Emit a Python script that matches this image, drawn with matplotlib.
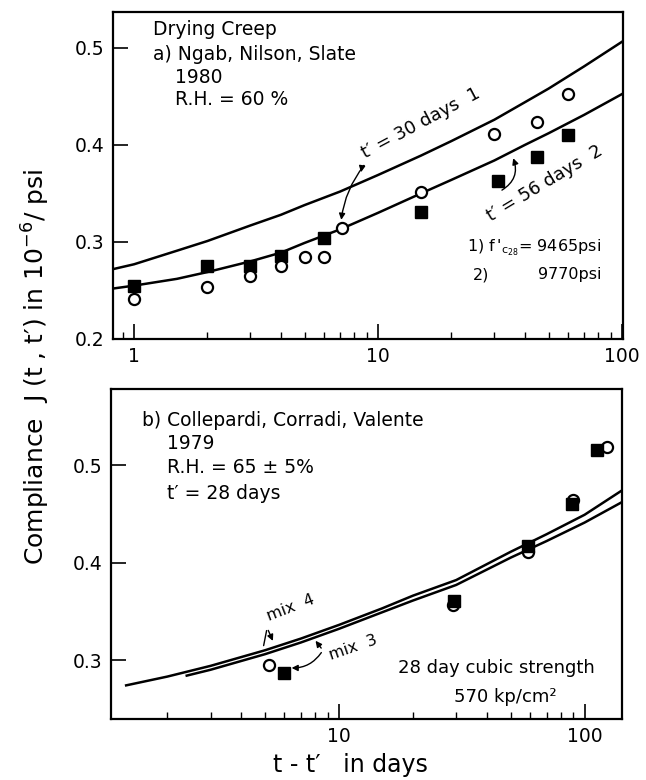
import matplotlib
matplotlib.use("Agg")
import matplotlib.pyplot as plt
from matplotlib.ticker import LogLocator, NullFormatter, FixedLocator, FixedFormatter

# ---------------- data : panel a (Ngab, Nilson, Slate 1980) ----------------
a_sq_x = [1, 2, 3, 4, 6, 15, 31, 45, 60]
a_sq_y = [0.255, 0.275, 0.275, 0.286, 0.304, 0.331, 0.363, 0.388, 0.410]
a_ci_x = [1, 2, 3, 4, 5, 6, 7.1, 15, 30, 45, 60]
a_ci_y = [0.241, 0.254, 0.265, 0.275, 0.285, 0.285, 0.314, 0.351, 0.411, 0.424, 0.453]
# curve 1 (t' = 30 days) and curve 2 (t' = 56 days)
a_c1_x = [0.82, 1, 1.5, 2, 3, 4, 5, 7, 10, 15, 20, 30, 40, 50, 70, 101]
a_c1_y = [0.272, 0.277, 0.291, 0.301, 0.317, 0.328, 0.338, 0.352, 0.369, 0.389,
          0.404, 0.426, 0.444, 0.458, 0.481, 0.507]
a_c2_x = [0.82, 1, 1.5, 2, 3, 4, 5, 7, 10, 15, 20, 30, 40, 50, 70, 101]
a_c2_y = [0.252, 0.255, 0.262, 0.269, 0.280, 0.289, 0.299, 0.313, 0.330, 0.350,
          0.364, 0.384, 0.400, 0.412, 0.431, 0.453]

# ---------------- data : panel b (Collepardi, Corradi, Valente 1979) -------
b_ci_x = [5.2, 29, 59, 90, 123]
b_ci_y = [0.295, 0.356, 0.411, 0.464, 0.518]
b_sq_x = [6.0, 29.5, 59, 89, 112]
b_sq_y = [0.287, 0.361, 0.417, 0.460, 0.515]
b_m4_x = [1.36, 2, 3, 5, 7, 10, 15, 20, 30, 50, 70, 100, 142]
b_m4_y = [0.274, 0.283, 0.294, 0.310, 0.322, 0.336, 0.353, 0.366, 0.382, 0.411,
          0.429, 0.449, 0.474]
b_m3_x = [2.4, 3, 5, 7, 10, 15, 20, 30, 50, 70, 100, 142]
b_m3_y = [0.284, 0.290, 0.306, 0.318, 0.332, 0.349, 0.361, 0.377, 0.405, 0.422,
          0.441, 0.462]

y_ticks_a = [0.2, 0.3, 0.4, 0.5]
y_ticks_b = [0.3, 0.4, 0.5]
y_labels_a = ["0.2", "0.3", "0.4", "0.5"]
y_labels_b = ["0.3", "0.4", "0.5"]

W, H = 646, 780
plt.rcParams['font.family'] = ['DejaVu Sans']
fig = plt.figure(figsize=(W / 100, H / 100), dpi=100)

def box(l, t, r, b):
    return [l / W, 1 - b / H, (r - l) / W, (b - t) / H]

ax1 = fig.add_axes(box(113, 12, 623, 339))
ax2 = fig.add_axes(box(111, 389, 622, 719))

LW = 1.8
for ax in (ax1, ax2):
    ax.set_xscale('log')
    for s in ax.spines.values():
        s.set_linewidth(1.6)
    ax.tick_params(which='major', direction='in', length=11, width=1.2, labelsize=13.5, pad=6)
    ax.tick_params(which='minor', direction='in', length=5, width=1.0)
    ax.xaxis.set_minor_locator(LogLocator(base=10, subs=range(2, 10)))
    ax.xaxis.set_minor_formatter(NullFormatter())

# ---- panel a ----
ax1.plot(a_c1_x, a_c1_y, color='black', lw=LW)
ax1.plot(a_c2_x, a_c2_y, color='black', lw=LW)
ax1.plot(a_sq_x, a_sq_y, 's', color='black', ms=8.5, zorder=5)
ax1.plot(a_ci_x, a_ci_y, 'o', mfc='white', mec='black', mew=1.6, ms=8, zorder=6)
ax1.set_xlim(0.82, 101)
ax1.set_ylim(0.2, 0.537)
ax1.yaxis.set_major_locator(FixedLocator(y_ticks_a))
ax1.yaxis.set_major_formatter(FixedFormatter(y_labels_a))
ax1.xaxis.set_major_locator(FixedLocator([1, 10, 100]))
ax1.xaxis.set_major_formatter(FixedFormatter(["1", "10", "100"]))

fs = 13.5
ax1.text(0.078, 0.945, "Drying Creep", transform=ax1.transAxes, fontsize=fs, va='center')
ax1.text(0.078, 0.869, "a) Ngab, Nilson, Slate", transform=ax1.transAxes, fontsize=fs, va='center')
ax1.text(0.122, 0.801, "1980", transform=ax1.transAxes, fontsize=fs, va='center')
ax1.text(0.122, 0.731, "R.H. = 60 %", transform=ax1.transAxes, fontsize=fs, va='center')
ax1.text(9.0, 0.382, "t\u2032 = 30 days  1", rotation=28, fontsize=13,
         rotation_mode='anchor', ha='left', va='bottom')
ax1.text(29.5, 0.318, "t\u2032 = 56 days  2", rotation=31, fontsize=13,
         rotation_mode='anchor', ha='left', va='bottom')
fs2 = 11.5
ax1.text(0.957, 0.278, r"1) $\mathrm{f}\,'_{\mathrm{c}_{28}}$= 9465psi",
         transform=ax1.transAxes, fontsize=fs2, va='center', ha='right')
ax1.text(0.706, 0.196, "2)", transform=ax1.transAxes, fontsize=fs2, va='center')
ax1.text(0.957, 0.196, "9770psi", transform=ax1.transAxes, fontsize=fs2, va='center', ha='right')

arr = dict(arrowstyle='-|>', color='black', lw=1.0, mutation_scale=9)
ax1.annotate("", xy=(8.5, 0.369), xytext=(8.9, 0.381),
             arrowprops=dict(arr, connectionstyle="arc3,rad=0.2"))
ax1.annotate("", xy=(7.05, 0.320), xytext=(8.9, 0.381),
             arrowprops=dict(arr, connectionstyle="arc3,rad=0.15"))
ax1.annotate("", xy=(35.5, 0.389), xytext=(31.5, 0.352),
             arrowprops=dict(arr, connectionstyle="arc3,rad=0.45"))

# ---- panel b ----
ax2.plot(b_m4_x, b_m4_y, color='black', lw=LW)
ax2.plot(b_m3_x, b_m3_y, color='black', lw=LW)
ax2.plot(b_ci_x, b_ci_y, 'o', mfc='white', mec='black', mew=1.6, ms=8, zorder=5)
ax2.plot(b_sq_x, b_sq_y, 's', color='black', ms=8.5, zorder=6)
ax2.set_xlim(1.18, 142)
ax2.set_ylim(0.2395, 0.578)
ax2.yaxis.set_major_locator(FixedLocator(y_ticks_b))
ax2.yaxis.set_major_formatter(FixedFormatter(y_labels_b))
ax2.xaxis.set_major_locator(FixedLocator([10, 100]))
ax2.xaxis.set_major_formatter(FixedFormatter(["10", "100"]))

ax2.text(0.061, 0.906, "b) Collepardi, Corradi, Valente", transform=ax2.transAxes, fontsize=fs, va='center')
ax2.text(0.110, 0.836, "1979", transform=ax2.transAxes, fontsize=fs, va='center')
ax2.text(0.110, 0.761, "R.H. = 65 \u00b1 5%", transform=ax2.transAxes, fontsize=fs, va='center')
ax2.text(0.110, 0.682, "t\u2032 = 28 days", transform=ax2.transAxes, fontsize=fs, va='center')
ax2.text(5.19, 0.340, "mix  4", rotation=21, fontsize=11.5, rotation_mode='anchor')
ax2.text(9.28, 0.300, "mix  3", rotation=19, fontsize=11.5, rotation_mode='anchor')
ax2.text(0.754, 0.155, "28 day cubic strength", transform=ax2.transAxes, fontsize=13,
         ha='center', va='center')
ax2.text(0.771, 0.067, "570 kp/cm\u00b2", transform=ax2.transAxes, fontsize=13,
         ha='center', va='center')

ax2.annotate("", xy=(4.91, 0.312), xytext=(5.1, 0.333),
             arrowprops=dict(arr, arrowstyle='-', connectionstyle="arc3,rad=0"))
ax2.annotate("", xy=(5.44, 0.317), xytext=(5.1, 0.333),
             arrowprops=dict(arr, connectionstyle="arc3,rad=0"))
ax2.annotate("", xy=(7.9, 0.322), xytext=(8.6, 0.310),
             arrowprops=dict(arr, connectionstyle="arc3,rad=0"))
ax2.annotate("", xy=(6.25, 0.292), xytext=(8.6, 0.310),
             arrowprops=dict(arr, connectionstyle="arc3,rad=-0.3"))

# ---- axis titles ----
fig.text(36 / W, 1 - 367 / H, "Compliance  J (t , t\u2032) in 10$^{-6}$/ psi",
         rotation=90, ha='center', va='center', fontsize=18)
fig.text(350 / W, 1 - 765 / H, "t - t\u2032   in days", ha='center', va='center', fontsize=17)

fig.savefig("out.png", dpi=100)
